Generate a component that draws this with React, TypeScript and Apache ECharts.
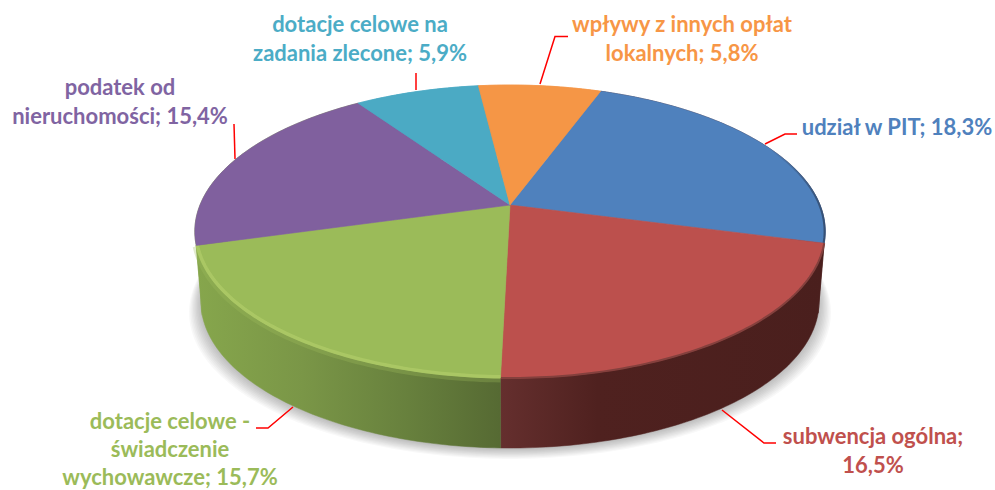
import React, { useEffect, useRef } from "react";
import * as echarts from "echarts";

const names = [
  "udział w PIT",
  "subwencja ogólna",
  "dotacje celowe -\nświadczenie\nwychowawcze",
  "podatek od\nnieruchomości",
  "dotacje celowe na\nzadania zlecone",
  "wpływy z innych opłat\nlokalnych",
];
const values = [18.3, 16.5, 15.7, 15.4, 5.9, 5.8];
const separators = ["; ", ";\n", "; ", "; ", "; ", "; "];
const colors = ["#4F81BD", "#BC504D", "#9BBB59", "#80609E", "#4BAAC4", "#F59646"];
const labelColors = ["#4F81BD", "#C0504D", "#9BBB59", "#8064A2", "#4BACC6", "#F79646"];

// Layout only: label centres, line heights and leader-line vertices
const labelPos = [[897, 126], [873, 450], [170, 448], [120, 101], [360, 38], [682, 38]];
const labelLineHeights = [29.5, 29.5, 28, 29.5, 29.5, 29.5];
const leaders = [
  [[765, 144], [785, 134], [797, 134]],
  [[722, 410], [764, 443], [776, 443]],
  [[293, 407], [268, 428], [256, 428]],
  [[234, 124], [235, 159]],
  [[416, 73], [416, 90]],
  [[540, 84], [555, 36.5], [568, 36.5]],
];

const START = 20;
const CX = 510, CY = 205, K = 0.181, A = 141.7;
const TOP_B = 310, BOT_B = 304, DEPTH = 70;
const RAD = Math.PI / 180;
const total = values.reduce((a, b) => a + b, 0);

function proj(deg: number, b: number, dy: number, s = 1) {
  const u = s * Math.sin(deg * RAD);
  const v = s * Math.cos(deg * RAD);
  const d = 1 + K * v;
  return [CX + (b * u) / d, CY + dy - (A * v) / d];
}
function arc(a0: number, a1: number, b: number, dy: number, s = 1) {
  const pts: number[][] = [];
  const n = Math.max(2, Math.ceil(Math.abs(a1 - a0)));
  for (let i = 0; i <= n; i++) pts.push(proj(a0 + ((a1 - a0) * i) / n, b, dy, s));
  return pts;
}
function sliceAngles(i: number) {
  let before = 0;
  for (let j = 0; j < i; j++) before += values[j];
  return [START + (before / total) * 360, START + ((before + values[i]) / total) * 360];
}
const grad = (x0: number, x1: number, stops: [number, string][]) =>
  new echarts.graphic.LinearGradient(x0, 0, x1, 0, stops.map(([offset, color]) => ({ offset, color })), true);

function wallFill(i: number) {
  if (i === 0) return "#4a1f1d";
  if (i === 1)
    return grad(500, 825, [[0, "#652f2e"], [0.3, "#4f211f"], [1, "#4a1f1d"]]);
  if (i === 2 || i === 3)
    return grad(197, 500, [[0, "#86a64c"], [0.35, "#7a9647"], [0.7, "#67803d"], [1, "#566a33"]]);
  return colors[i];
}

function renderWall(params: any) {
  const i = params.dataIndex;
  const [a0, a1] = sliceAngles(i);
  const pts = arc(a0, a1, TOP_B, 0).concat(arc(a1, a0, BOT_B, DEPTH));
  const fill = wallFill(i);
  return { type: "polygon", silent: true, shape: { points: pts }, style: { fill, stroke: fill, lineWidth: 0.5 } };
}

function renderTop(params: any) {
  const i = params.dataIndex;
  const [a0, a1] = sliceAngles(i);
  const pts = [[CX, CY], ...arc(a0, a1, TOP_B, 0)];
  const children: any[] = [
    { type: "polygon", silent: true, shape: { points: pts }, style: { fill: colors[i], stroke: colors[i], lineWidth: 0.6 } },
  ];
  if (i === 2) {
    children.push({ type: "polyline", silent: true, shape: { points: arc(a0, a1, TOP_B, 1) },
      style: { fill: "none", stroke: "#9fbd5c", lineWidth: 7, opacity: 0.3 } });
    children.push({ type: "polyline", silent: true, shape: { points: arc(a0, a1, TOP_B, -0.5, 0.997) },
      style: { fill: "none", stroke: "#aecb66", lineWidth: 3.5, opacity: 0.8 } });
  }
  if (i === 1) {
    children.push({ type: "polyline", silent: true, shape: { points: arc(a0, a1, TOP_B, 0) },
      style: { fill: "none", stroke: "#84403d", lineWidth: 2 } });
  }
  if (i === 0) {
    children.push({ type: "polyline", silent: true, shape: { points: arc(a0 + 45, a1, TOP_B, 0, 0.998) },
      style: { fill: "none", stroke: grad(770, 825, [[0, "rgba(50,75,110,0)"], [1, "rgba(50,75,110,0.9)"]]), lineWidth: 2 } });
  }
  return { type: "group", children };
}

// soft ground shadow built from stacked translucent outlines of the base
function renderShadow() {
  const layers = [];
  for (let j = 9; j >= 0; j--) {
    layers.push({
      type: "polygon",
      silent: true,
      shape: { points: arc(0, 360, BOT_B + j * 1.3, DEPTH + 1 + j * 1.1) },
      style: { fill: "rgba(0,0,0,0.028)" },
    });
  }
  return { type: "group", children: layers };
}

const labelText = (i: number) => `${names[i]}${separators[i]}${values[i].toFixed(1).replace(".", ",")}%`;

export default function App() {
  const ref = useRef<HTMLDivElement>(null);
  useEffect(() => {
    const chart = echarts.init(ref.current!, undefined, { renderer: "svg" });
    chart.setOption({
      animation: false,
      backgroundColor: "#ffffff",
      series: [
        { type: "custom", coordinateSystem: "none", clip: false, z: 1, renderItem: renderShadow, data: [[1]] },
        { type: "custom", coordinateSystem: "none", clip: false, z: 2, renderItem: renderWall, data: values.map((v) => [v]) },
        { type: "custom", coordinateSystem: "none", clip: false, z: 3, renderItem: renderTop, data: values.map((v) => [v]) },
      ],
      graphic: [
        ...leaders.map((pts) => ({
          type: "polyline",
          silent: true,
          z: 10,
          shape: { points: pts },
          style: { fill: "none", stroke: "#FF0000", lineWidth: 1.5 },
        })),
        ...names.map((_, i) => ({
          type: "text",
          silent: true,
          z: 10,
          x: labelPos[i][0],
          y: labelPos[i][1],
          style: {
            text: labelText(i),
            fill: labelColors[i],
            font: "bold 22px Lato",
            align: "center",
            verticalAlign: "middle",
            lineHeight: labelLineHeights[i],
          },
        })),
      ],
    });
    return () => chart.dispose();
  }, []);
  return <div ref={ref} style={{ position: "absolute", left: 0, top: 0, width: 995, height: 490 }} />;
}
